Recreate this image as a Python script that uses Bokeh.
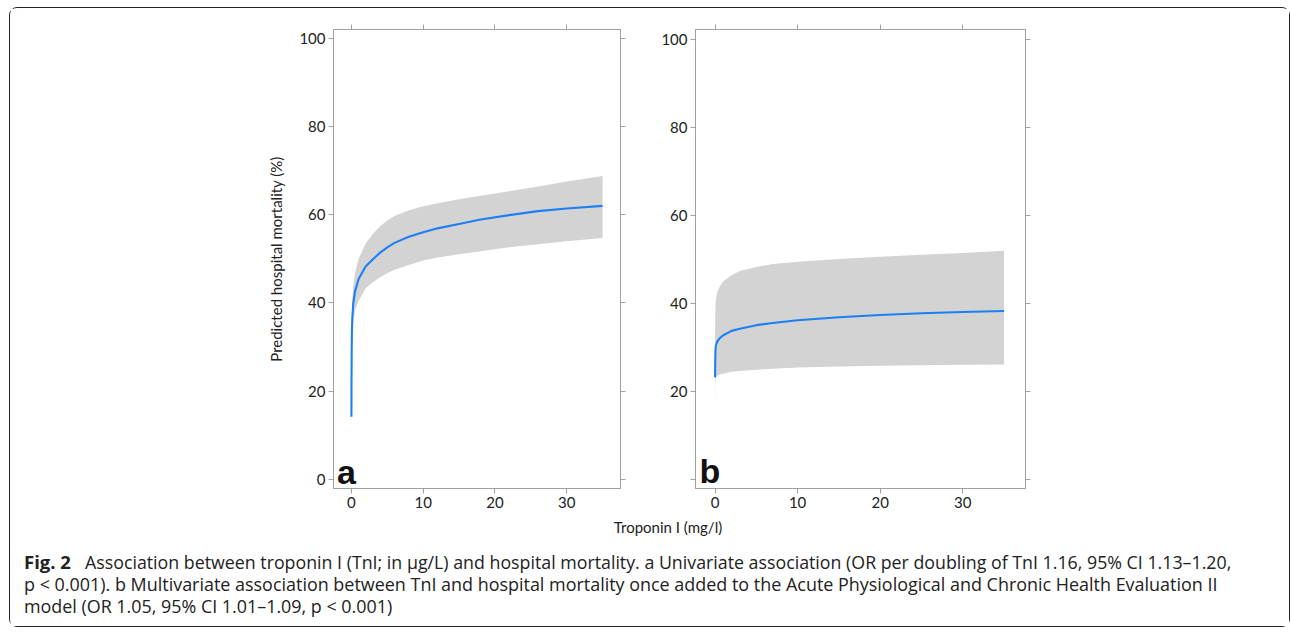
from bokeh.plotting import figure
from bokeh.layouts import row, column
from bokeh.models import (Range1d, LinearAxis, FixedTicker, Label, ColumnDataSource,
                          CustomLabelingPolicy)
from bokeh.core.properties import value
from bokeh.embed import file_html
from bokeh.resources import INLINE

# ---------------- data ----------------
a_x = [0, 0.01, 0.03, 0.06, 0.12, 0.25, 0.5, 1, 2, 3, 4, 5, 6, 8, 10, 12, 15, 18, 22, 26, 30, 35]
a_mean = [14.2, 22, 28, 33, 36.5, 39.8, 42.6, 45.4, 48.3, 49.9, 51.4, 52.6, 53.6, 55.0, 56.0,
          56.9, 57.9, 58.9, 59.9, 60.8, 61.4, 62.0]
a_upper = [16, 26, 32, 37, 40.8, 43.8, 46.8, 50.0, 53.5, 55.7, 57.4, 58.7, 59.7, 61.0, 61.9,
           62.6, 63.5, 64.3, 65.3, 66.4, 67.5, 68.8]
a_lower = [12, 19, 24, 28.5, 31.8, 35.7, 38.2, 40.5, 43.3, 44.7, 45.8, 46.7, 47.5, 48.6, 49.6,
           50.3, 51.0, 51.7, 52.6, 53.3, 54.0, 54.7]

b_x = [0, 0.02, 0.05, 0.1, 0.3, 0.6, 1, 2, 3, 5, 7, 10, 15, 20, 25, 30, 35]
b_mean = [23.3, 27.0, 29.5, 30.5, 31.5, 32.2, 32.8, 33.8, 34.3, 35.1, 35.6, 36.2, 36.9, 37.4,
          37.8, 38.1, 38.3]
b_upper = [31.0, 37.0, 39.5, 41.0, 42.8, 44.0, 45.0, 46.5, 47.4, 48.3, 49.0, 49.5, 50.1, 50.6,
           51.1, 51.5, 52.0]
b_lower = [16.5, 21.0, 22.5, 23.2, 23.6, 23.9, 24.1, 24.5, 24.7, 25.0, 25.2, 25.5, 25.7, 25.9,
           26.0, 26.1, 26.2]

y_ticks = [0, 20, 40, 60, 80, 100]
x_ticks = [0, 10, 20, 30]

y_label = "Predicted hospital mortality (%)"
x_label = "Troponin I (mg/l)"
caption_bold = "Fig. 2"
caption_lines = [
    "Association between troponin I (TnI; in µg/L) and hospital mortality. a Univariate association (OR per doubling of TnI 1.16, 95% CI 1.13–1.20,",
    "p < 0.001). b Multivariate association between TnI and hospital mortality once added to the Acute Physiological and Chronic Health Evaluation II",
    "model (OR 1.05, 95% CI 1.01–1.09, p < 0.001)",
]

# ---------------- styles ----------------
FRAME = "#a0a0a0"
LINE = "#1c80f4"
BAND = "#d3d3d3"
TXT = "#222222"
TICK_FONT = "Lato"
CAP_FONT = "Open Sans"

HIDE_ALL = "const ids = [...indices]; for (const i of ids) indices.unset(i); return indices"
HIDE_FIRST = "indices.unset(0); return indices"


def style_axis(ax, show_labels=True):
    ax.axis_line_color = FRAME
    ax.major_tick_line_color = FRAME
    ax.minor_tick_line_color = None
    ax.major_tick_in = 0
    ax.major_tick_out = 5
    ax.major_label_text_font = TICK_FONT
    ax.major_label_text_color = TXT
    ax.major_label_text_font_size = "15px"
    ax.major_label_standoff = 3
    if not show_labels:
        ax.major_label_policy = CustomLabelingPolicy(code=HIDE_ALL)
        ax.major_label_standoff = 0


def panel(x, mean, lower, upper, width, height, xr, yr, mb, letter, letter_pos, ylabel=None, hide_zero=False):
    p = figure(width=width, height=height, x_range=Range1d(*xr), y_range=Range1d(*yr),
               output_backend="svg", toolbar_location=None,
               min_border_left=mb[0], min_border_right=mb[1],
               min_border_top=mb[2], min_border_bottom=mb[3])
    p.xgrid.grid_line_color = None
    p.ygrid.grid_line_color = None
    p.outline_line_color = FRAME
    p.background_fill_color = "white"
    p.border_fill_color = "white"

    src = ColumnDataSource(dict(x=x, mean=mean, lower=lower, upper=upper))
    p.varea(x="x", y1="lower", y2="upper", source=src, fill_color=BAND, fill_alpha=1.0)
    p.line(x="x", y="mean", source=src, line_color=LINE, line_width=2.1)

    p.xaxis.ticker = FixedTicker(ticks=x_ticks)
    p.yaxis.ticker = FixedTicker(ticks=y_ticks)
    style_axis(p.xaxis[0])
    style_axis(p.yaxis[0])
    if hide_zero:
        p.yaxis[0].major_label_policy = CustomLabelingPolicy(code=HIDE_FIRST)
    if ylabel:
        p.yaxis[0].axis_label = ylabel
        p.yaxis[0].axis_label_text_font = TICK_FONT
        p.yaxis[0].axis_label_text_font_style = "normal"
        p.yaxis[0].axis_label_text_font_size = "15px"
        p.yaxis[0].axis_label_text_color = TXT
        p.yaxis[0].axis_label_standoff = 11

    ra = LinearAxis(ticker=FixedTicker(ticks=y_ticks))
    style_axis(ra, show_labels=False)
    p.add_layout(ra, "right")
    ta = LinearAxis(ticker=FixedTicker(ticks=x_ticks))
    style_axis(ta, show_labels=False)
    p.add_layout(ta, "above")

    p.add_layout(Label(x=letter_pos[0], y=letter_pos[1], text=letter,
                       text_font="Liberation Sans", text_font_style="bold",
                       text_font_size="34px", text_color="#111111",
                       text_baseline="alphabetic", text_align="left"))
    return p


pa = panel(a_x, a_mean, a_lower, a_upper, 644, 510, (-2.5, 37.5), (-2.1, 102.0),
           (323, 5, 20, 26), "a", (-2.0, 1.7), ylabel=y_label)
pb = panel(b_x, b_mean, b_lower, b_upper, 635, 510, (-2.37, 37.6), (-1.97, 102.2),
           (41, 264, 21, 30), "b", (-1.9, 2.0), hide_zero=True)

# caption area (coordinates in pixels from the top-left of this strip)
cap = figure(width=1279, height=108, x_range=Range1d(0, 1279), y_range=Range1d(108, 0),
             output_backend="svg", toolbar_location=None,
             min_border_left=0, min_border_right=0, min_border_top=0, min_border_bottom=0)
cap.axis.visible = False
cap.xgrid.grid_line_color = None
cap.ygrid.grid_line_color = None
cap.outline_line_color = None

cap.text(x=[657.5], y=[8.5], text=[x_label], text_font=value(TICK_FONT), text_font_size="15px",
         text_color=TXT, text_align="center", text_baseline="middle")
cap.text(x=[13.5], y=[43], text=[caption_bold], text_font=value(CAP_FONT), text_font_style="bold",
         text_font_size="18.5px", text_color=TXT, text_align="left", text_baseline="alphabetic")
cap.text(x=[74.5, 13.5, 13.5], y=[43, 65, 87], text=caption_lines, text_font=value(CAP_FONT),
         text_font_size=["17.8px", "17.95px", "17.9px"], text_color=TXT, text_align="left",
         text_baseline="alphabetic")

layout = column(row(pa, pb), cap, margin=(7, 0, 0, 9),
                styles={"border": "1.5px solid #222", "border-radius": "8px"})

open("out.html", "w").write(file_html(layout, INLINE))
